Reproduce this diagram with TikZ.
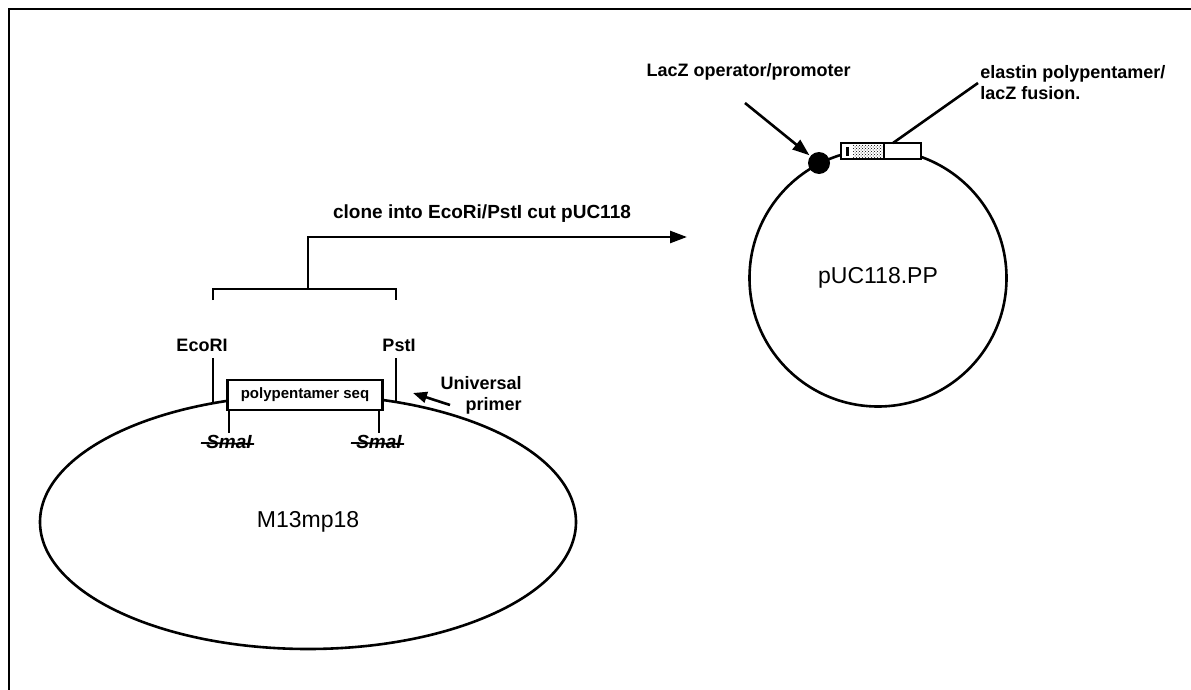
\documentclass[tikz,border=0pt]{standalone}
\usepackage{fontspec}
\setmainfont{Liberation Sans}
\usetikzlibrary{positioning,arrows.meta,shapes.geometric,patterns}

\begin{document}
\begin{tikzpicture}[x=1pt,y=-1pt,line width=2.6pt,
        lbl/.style={font=\fontsize{18}{21}\selectfont\bfseries,inner sep=1pt},
        big/.style={font=\fontsize{23}{26}\selectfont,inner sep=0pt},
        site/.style={font=\fontsize{19}{21}\selectfont\bfseries\itshape,inner sep=1pt},
        tip/.style={-{Triangle[length=17pt,width=12pt]}}]
        \useasboundingbox (0,0) rectangle (1191,690);
        % frame, open at right and bottom
        \draw (9,690) -- (9,9) -- (1191,9);

        % M13 vector with insert
        \node[ellipse,draw,big,minimum width=536,minimum height=254] (m13) at (308,522) {M13mp18};
        \node[draw,fill=white,font=\fontsize{15}{17}\selectfont\bfseries,
              minimum width=155,minimum height=30,inner sep=0pt] (pp) at (305,395) {polypentamer seq};
        \node[lbl] (eco) at (202,345) {EcoRI};
        \node[lbl] (pst) at (399,345) {PstI};
        \coordinate (ecoTop) at (213,358);
        \coordinate (ecoEnd) at (213,403);
        \coordinate (pstTop) at (396,358);
        \coordinate (pstEnd) at (396,403);
        \draw (ecoTop) -- (ecoEnd);
        \draw (pstTop) -- (pstEnd);
        \foreach \n/\x in {a/229,b/379}{
          \coordinate (sm\n) at (\x,410);
          \node[site] (smaI\n) at (\x,442) {SmaI};
          \draw (sm\n) -- (smaI\n.north);
          \draw[line width=1.8pt] ([xshift=-3pt,yshift=-1pt]smaI\n.west) -- ([yshift=-2pt]smaI\n.east);
        }
        \node[lbl,align=right,anchor=north east] (univ) at (524,374) {Universal\\primer};
        \coordinate (uTail) at (450,405);
        \coordinate (uTip) at (413,393);
        \draw[-{Triangle[length=14pt,width=11pt]}] (uTail) -- (uTip);

        % bracket and cloning arrow
        \coordinate (brL) at (213,300);
        \coordinate (brR) at (396,300);
        \coordinate (brM) at (308,289);
        \coordinate (tipC) at (687,237);
        \draw (brL) -- (brL |- brM) -- (brR |- brM) -- (brR);
        \draw[tip] (brM) -- (brM |- tipC) -- (tipC);
        \node[lbl,font=\fontsize{19}{21}\selectfont\bfseries] (clone) at (482,214) {clone into EcoRi/PstI cut pUC118};

        % pUC118.PP
        \node[circle,draw,big,minimum size=257] (puc) at (878,278) {pUC118.PP};
        \node[circle,fill=black,minimum size=22,inner sep=0pt] (lac) at (819,163) {};
        \node[draw,fill=white,minimum width=80,minimum height=16,inner sep=0pt,line width=2.2pt] (fus) at (881,151) {};
        \fill[pattern=crosshatch dots] (853,146) rectangle (882,157);
        \draw[line width=2.2pt] (884,143) -- (884,159);
        \draw[line width=3pt] (847,147) -- (847,156);
        \node[lbl,anchor=east] (lacT) at (853,72) {LacZ operator/promoter};
        \coordinate (lacTail) at (745,103);
        \draw[tip] (lacTail) -- (lac);
        \node[lbl,anchor=west,align=left] (ela) at (978,83) {elastin polypentamer/\\lacZ fusion.};
        \coordinate (fusUp) at (893,143);
        \draw (fusUp) -- (ela.west);
      \end{tikzpicture}
\end{document}
